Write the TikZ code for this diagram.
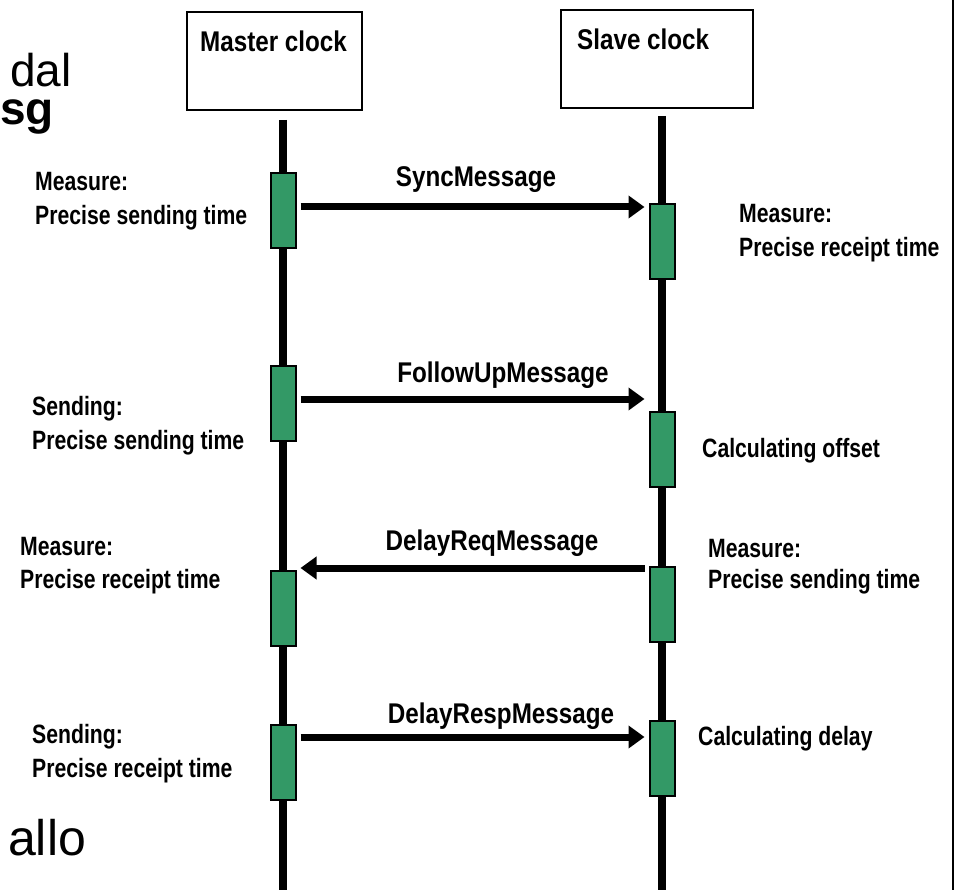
\documentclass[tikz,border=0pt]{standalone}
\usepackage{fontspec}
\setmainfont{Liberation Sans}
\newfontfamily\msgfont[FakeStretch=0.85]{Liberation Sans}
\newfontfamily\notefont[FakeStretch=0.8]{Liberation Sans}
\usetikzlibrary{arrows.meta}
\definecolor{actgreen}{RGB}{51,153,102}
\begin{document}
\begin{tikzpicture}[x=1pt, y=-1pt,
  hdrbox/.style={draw, line width=1.5pt, inner sep=0, minimum height=98pt},
  hdrtext/.style={anchor=base west, inner sep=0, font=\msgfont\bfseries\fontsize{28.5}{30}\selectfont},
  lifeline/.style={line width=8pt},
  act/.style={draw, line width=2pt, fill=actgreen, inner sep=0, minimum width=25pt, minimum height=75pt},
  msg/.style={line width=7pt, -{Triangle[length=16pt,width=22pt]}, shorten <=4pt, shorten >=4pt},
  msgtext/.style={anchor=base, inner sep=0, font=\msgfont\bfseries\fontsize{28.5}{30}\selectfont},
  note/.style={anchor=base west, inner sep=0, font=\notefont\bfseries\fontsize{26.5}{30}\selectfont},
  bigtext/.style={anchor=base west, inner sep=0}]
\useasboundingbox (0,0) rectangle (955,890);

% slide text around the diagram
\node[bigtext, font=\fontsize{46}{50}\selectfont] (wdal) at (10,87) {dal};
\node[bigtext, font=\bfseries\fontsize{46}{50}\selectfont] (wsg) at (0,125) {sg};
\node[bigtext, font=\fontsize{50}{54}\selectfont] (wallo) at (8,855) {allo};

% right frame edge
\coordinate (frtop) at (953,0);
\coordinate (frbot) at (953,890);
\draw[line width=2pt] (frtop) -- (frbot);

% clock headers
\node[hdrbox, minimum width=175pt] (master) at (274.5,61) {};
\node[hdrbox, minimum width=192pt] (slave) at (657,59) {};
\node[hdrtext] (masterlbl) at (200,52) {Master clock};
\node[hdrtext] (slavelbl) at (577,50) {Slave clock};

% lifelines
\coordinate (mtop) at (283,120);
\coordinate (mbot) at (283,890);
\coordinate (stop) at (662,116);
\coordinate (sbot) at (662,890);
\draw[lifeline] (mtop) -- (mbot);
\draw[lifeline] (stop) -- (sbot);

% activation bars
\node[act] (m1) at (283,211) {};
\node[act] (m2) at (283,403) {};
\node[act] (m3) at (283,608) {};
\node[act] (m4) at (283,762.5) {};
\node[act] (s1) at (662,242) {};
\node[act] (s2) at (662,449) {};
\node[act] (s3) at (662,604) {};
\node[act] (s4) at (662,758.5) {};

% message levels
\coordinate (r1) at (0,207);
\coordinate (r2) at (0,399);
\coordinate (r3) at (0,568);
\coordinate (r4) at (0,737);

\draw[msg] (m1.east |- r1) -- (s1.west |- r1);
\draw[msg] (m2.east |- r2) -- (s2.west |- r2);
\draw[msg] (s3.west |- r3) -- (m3.east |- r3);
\draw[msg] (m4.east |- r4) -- (s4.west |- r4);

\node[msgtext] (t1) at (476,187) {SyncMessage};
\node[msgtext] (t2) at (503,382) {FollowUpMessage};
\node[msgtext] (t3) at (492,550) {DelayReqMessage};
\node[msgtext] (t4) at (501,723) {DelayRespMessage};

% master side notes
\node[note] (l1a) at (35,191) {Measure:};
\node[note] (l1b) at (35,225) {Precise sending time};
\node[note] (l2a) at (32,415) {Sending:};
\node[note] (l2b) at (32,449) {Precise sending time};
\node[note] (l3a) at (20,555) {Measure:};
\node[note] (l3b) at (20,588) {Precise receipt time};
\node[note] (l4a) at (32,743) {Sending:};
\node[note] (l4b) at (32,777) {Precise receipt time};

% slave side notes
\node[note] (r1a) at (739,223) {Measure:};
\node[note] (r1b) at (739,257) {Precise receipt time};
\node[note] (r2a) at (702,457) {Calculating offset};
\node[note] (r3a) at (708,557) {Measure:};
\node[note] (r3b) at (708,588) {Precise sending time};
\node[note] (r4a) at (698,745) {Calculating delay};
\end{tikzpicture}
\end{document}
